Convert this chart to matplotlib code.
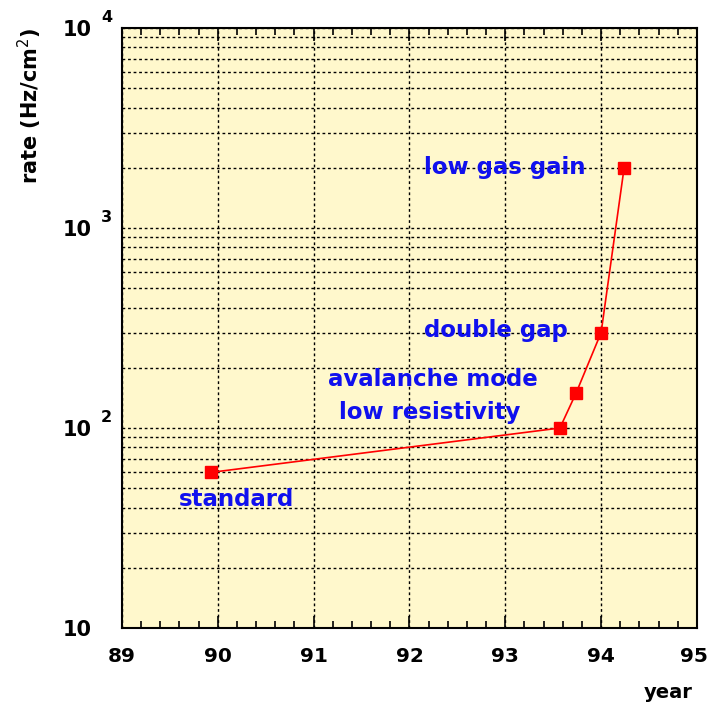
import matplotlib
matplotlib.use("Agg")
import matplotlib.pyplot as plt
import matplotlib.transforms as mtransforms
from matplotlib.ticker import FixedLocator, MultipleLocator, LogLocator, NullFormatter

# rate capability of the chambers over the years
years = [89.93, 93.57, 93.74, 94.0, 94.24]
rates = [60, 100, 150, 300, 2000]

labels = ["standard", "low resistivity", "avalanche mode", "double gap", "low gas gain"]
label_x = [90.2, 92.21, 92.24, 92.9, 92.99]
label_y = [43.7, 120, 174, 309, 2000]

y_ticks = [10, 100, 1000, 10000]
y_exponents = ["", "2", "3", "4"]
x_ticks = [89, 90, 91, 92, 93, 94, 95]

plt.rcParams["font.family"] = ["DejaVu Sans"]

fig = plt.figure(figsize=(7.09, 7.10), dpi=100)
ax = fig.add_axes([0.172, 0.1155, 0.811, 0.845])
ax.set_facecolor("#fff8cc")

ax.set_xlim(89, 95)
ax.set_yscale("log")
ax.set_ylim(10, 10000)

# dashed grid at every year and every log decade subdivision
ax.xaxis.set_major_locator(FixedLocator(x_ticks))
ax.xaxis.set_minor_locator(MultipleLocator(0.2))
ax.yaxis.set_major_locator(FixedLocator(y_ticks))
ax.yaxis.set_major_formatter(NullFormatter())
ax.yaxis.set_minor_locator(LogLocator(base=10, subs=range(2, 10)))
ax.yaxis.set_minor_formatter(NullFormatter())
ax.grid(True, which="major", axis="x", color="black", linestyle=(0, (2, 2)), linewidth=1)
ax.grid(True, which="both", axis="y", color="black", linestyle=(0, (2, 2)), linewidth=1)
ax.set_axisbelow(True)

ax.tick_params(axis="x", which="major", direction="in", length=9, width=1.2,
               top=True, labelsize=14.5, pad=14)
ax.tick_params(axis="x", which="minor", direction="in", length=5, width=1.2, top=True)
ax.tick_params(axis="y", which="both", direction="in", length=0)
xlabels = ax.get_xticklabels()
for lbl in xlabels:
    lbl.set_fontweight("bold")
# keep the last year label inside the canvas
xlabels[-1].set_transform(xlabels[-1].get_transform() +
                          mtransforms.ScaledTranslation(-3 / 100, 0, fig.dpi_scale_trans))
for s in ax.spines.values():
    s.set_linewidth(1.5)

# decade labels on the log axis: "10" with a raised exponent
ytrans = ax.get_yaxis_transform()
for val, ex in zip(y_ticks, y_exponents):
    ax.annotate("10", xy=(0, val), xycoords=ytrans, xytext=(-59, -2),
                textcoords="offset pixels", ha="left", va="center",
                fontsize=15, fontweight="bold", annotation_clip=False)
    if ex:
        ax.annotate(ex, xy=(0, val), xycoords=ytrans, xytext=(-21, 11),
                    textcoords="offset pixels", ha="left", va="center",
                    fontsize=11.5, fontweight="bold", annotation_clip=False)

ax.plot(years, rates, color="red", linewidth=1.2, marker="s", markersize=8,
        markerfacecolor="red", markeredgecolor="red", zorder=3)

for t, x, y in zip(labels, label_x, label_y):
    ax.text(x, y, t, color="#1010ee", fontsize=16.5, fontweight="bold",
            ha="center", va="center")

fig.text(0.042, 0.962, r"rate (Hz/cm$^{2}$)", rotation=90, ha="center", va="top",
         fontsize=15, fontweight="bold")
fig.text(0.977, 0.025, "year", ha="right", va="center", fontsize=14, fontweight="bold")

fig.savefig("out.png", dpi=100, facecolor="white")
